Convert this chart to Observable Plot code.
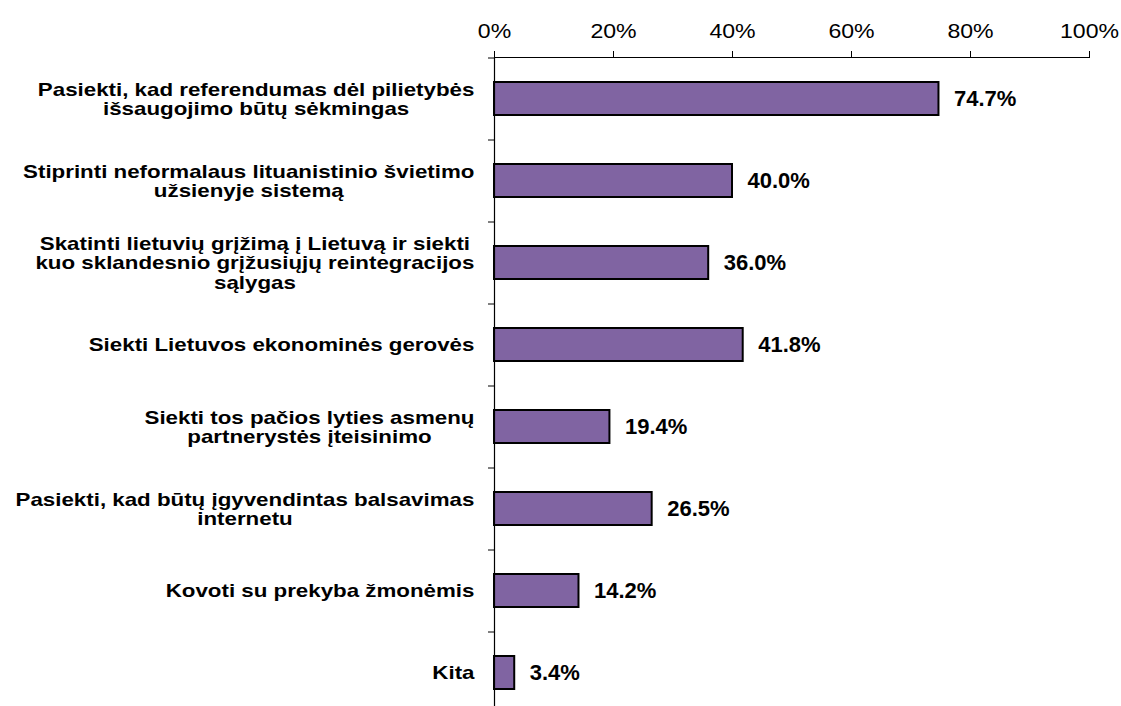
<!DOCTYPE html>
<html>
<head>
<meta charset="utf-8">
<script src="https://cdn.jsdelivr.net/npm/d3@7"></script>
<script src="https://cdn.jsdelivr.net/npm/@observablehq/plot@0.6"></script>
<style>
  html, body { margin: 0; padding: 0; background: #fff; overflow: hidden; }
  #chart { width: 1121px; height: 706px; overflow: hidden; }
</style>
</head>
<body>
<div id="chart"></div>
<script>
// ---- data ----
const categories = [
  "Pasiekti, kad referendumas dėl pilietybės\nišsaugojimo būtų sėkmingas",
  "Stiprinti neformalaus lituanistinio švietimo\nužsienyje sistemą",
  "Skatinti lietuvių grįžimą į Lietuvą ir siekti\nkuo sklandesnio grįžusiųjų reintegracijos\nsąlygas",
  "Siekti Lietuvos ekonominės gerovės",
  "Siekti tos pačios lyties asmenų\npartnerystės įteisinimo",
  "Pasiekti, kad būtų įgyvendintas balsavimas\ninternetu",
  "Kovoti su prekyba žmonėmis",
  "Kita"
];
const values = [74.7, 40.0, 36.0, 41.8, 19.4, 26.5, 14.2, 3.4];
const valueLabels = ["74.7%", "40.0%", "36.0%", "41.8%", "19.4%", "26.5%", "14.2%", "3.4%"];
const tickValues = [0, 20, 40, 60, 80, 100];
const tickLabels = ["0%", "20%", "40%", "60%", "80%", "100%"];

const rows = categories.map((c, i) => ({cat: c, value: values[i], label: valueLabels[i]}));

// ---- layout ----
const W = 1121, H = 713;
const mL = 494, mR = 32, mT = 57, mB = 0;
const step = (H - mT - mB) / categories.length;
const FONT = "'Liberation Sans', Arial, sans-serif";
const catSize = 19, catStretch = 1.175;
const tickSize = 20, tickStretch = 1.155;

const ctx = document.createElement("canvas").getContext("2d");
ctx.font = `bold ${catSize}px ${FONT}`;
const blockWidth = s => Math.max(...s.split("\n").map(l => ctx.measureText(l).width)) * catStretch;

const catMarks = categories.map(c => Plot.text([c], {
  y: d => d,
  text: d => d,
  frameAnchor: "left",
  textAnchor: "middle",
  lineAnchor: "middle",
  lineHeight: 1.02,
  dx: -(20 + blockWidth(c) / 2),
  fontSize: catSize,
  fontWeight: "bold",
  fill: "black"
}));

const chart = Plot.plot({
  width: W,
  height: H,
  marginLeft: mL,
  marginRight: mR,
  marginTop: mT,
  marginBottom: mB,
  style: {fontFamily: FONT, color: "black", background: "white"},
  x: {domain: [0, 100], axis: null},
  y: {domain: categories, paddingInner: 0.6, paddingOuter: 0.3, align: 0.5, axis: null},
  marks: [
    Plot.axisX({
      anchor: "top",
      ticks: tickValues,
      tickFormat: (d, i) => tickLabels[i],
      tickSize: 7,
      tickPadding: 13,
      fontSize: tickSize,
      label: null,
      stroke: "black"
    }),
    Plot.axisY({
      ticks: categories,
      tickSize: 6,
      tickFormat: null,
      dy: -step / 2,
      label: null,
      stroke: "black"
    }),
    Plot.frame({anchor: "top", stroke: "black"}),
    Plot.barX(rows, {
      x: "value",
      y: "cat",
      fill: "#8064A2",
      stroke: "black",
      strokeWidth: 2
    }),
    Plot.ruleX([0], {stroke: "black", strokeWidth: 1.2}),
    Plot.text(rows, {
      x: "value",
      y: "cat",
      text: "label",
      textAnchor: "start",
      dx: 15,
      fontSize: 22,
      fontWeight: "bold",
      fill: "black"
    }),
    ...catMarks
  ]
});

// horizontally widen label glyphs (scale about each text's own anchor point)
function stretchText(t, sx) {
  const tr = t.getAttribute("transform") || "";
  t.setAttribute("transform", `${tr} scale(${sx},1)`);
}
const catFlat = new Set(categories.map(c => c.replace(/\n/g, "")));
const tickSet = new Set(tickLabels);
chart.querySelectorAll("text").forEach(t => {
  const s = t.textContent;
  if (catFlat.has(s)) stretchText(t, catStretch);
  else if (tickSet.has(s)) stretchText(t, tickStretch);
});

document.getElementById("chart").appendChild(chart);
</script>
</body>
</html>
